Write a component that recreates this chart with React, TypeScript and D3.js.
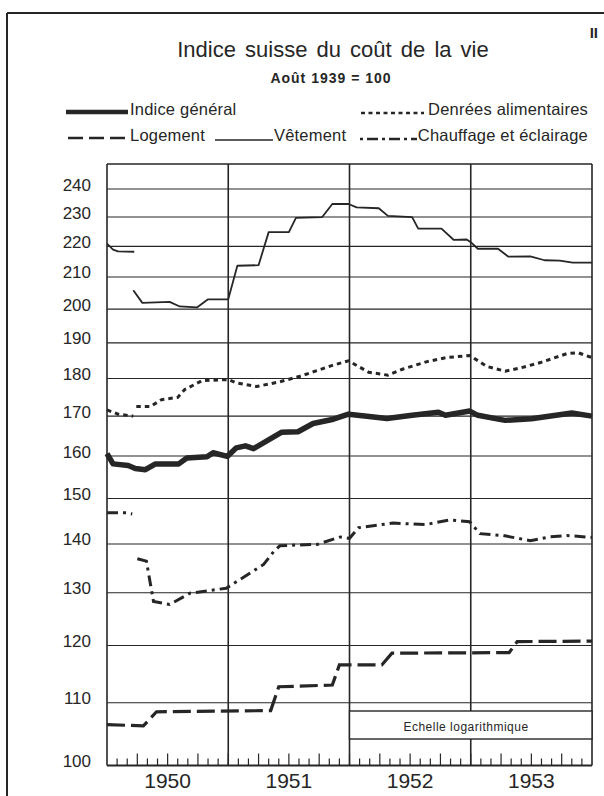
import React from "react";
import * as d3 from "d3";

const W = 604;
const H = 796;

const years = ["1950", "1951", "1952", "1953"];
const yLabels = [100, 110, 120, 130, 140, 150, 160, 170, 180, 190, 200, 210, 220, 230, 240];
const gridValues = [110, 120, 130, 140, 150, 160, 170, 180, 190, 200, 210, 220, 230, 240];

// [months since Jan 1950, index]; null = gap in the line
const indiceGeneral = [
  [0, 160.6], [0.6, 158.1], [2.1, 157.7], [2.8, 157.0], [3.8, 156.7], [4.8, 158.1],
  [7.1, 158.1], [7.9, 159.5], [9.9, 159.8], [10.5, 160.8], [11.9, 159.9], [12.8, 162.0],
  [13.7, 162.5], [14.5, 161.8], [17.3, 165.9], [18.9, 166.0], [20.4, 168.1], [22.4, 169.2],
  [23.9, 170.5], [25.5, 170.0], [27.7, 169.4], [30.2, 170.2], [32.8, 171.0], [33.5, 170.2],
  [35.9, 171.3], [36.7, 170.2], [39.4, 168.9], [42.0, 169.3], [46.0, 170.8], [48, 170.0],
];

const denrees = [
  [0, 171.6], [1.1, 170.5], [2.6, 170.0], null,
  [2.9, 172.5], [4.3, 172.5], [5.4, 174.3], [7.0, 174.9], [7.7, 177.0], [9.4, 179.4],
  [12.0, 179.7], [12.8, 178.8], [14.8, 177.8], [17.1, 179.1], [19.1, 180.6], [22.4, 183.7],
  [23.9, 184.9], [25.9, 181.7], [27.8, 180.9], [29.3, 182.6], [31.6, 184.6], [33.6, 185.8],
  [35.9, 186.4], [37.6, 183.3], [39.4, 182.0], [40.9, 182.9], [42.9, 184.4], [45.5, 186.9],
  [46.6, 187.2], [48, 185.8],
];

const logement = [
  [0, 106.4], [3.6, 106.2], [4.9, 108.5], [16.2, 108.7], [17.0, 112.7], [22.3, 113.0],
  [23.0, 116.5], [27.2, 116.5], [28.2, 118.6], [39.8, 118.7], [40.6, 120.7], [48, 120.8],
];

const vetement = [
  [0, 220.9], [0.6, 218.9], [1.1, 218.3], [2.7, 218.2], null,
  [2.6, 205.8], [3.5, 201.9], [6.2, 202.2], [7.2, 200.8], [8.9, 200.5], [10.0, 203.0],
  [12.0, 203.0], [12.9, 213.6], [15.0, 213.8], [16.0, 224.8], [18.0, 224.8], [18.7, 229.7],
  [21.3, 230.0], [22.3, 234.6], [23.9, 234.6], [24.7, 233.4], [26.9, 233.1], [27.8, 230.4],
  [30.2, 230.0], [30.8, 226.0], [33.1, 226.0], [34.3, 222.2], [35.6, 222.3], [36.0, 221.4],
  [36.7, 219.2], [38.7, 219.2], [39.7, 216.6], [41.9, 216.7], [43.3, 215.4], [44.8, 215.3],
  [46.1, 214.6], [48, 214.6],
];

const chauffage = [
  [0, 146.8], [1.9, 146.8], [2.5, 146.5], null,
  [3.0, 136.9], [3.9, 136.4], [4.6, 128.3], [6.2, 127.7], [8.2, 129.9], [11.8, 130.9],
  [15.5, 135.7], [16.5, 138.4], [17.1, 139.6], [19.1, 139.8], [20.8, 139.9], [23.1, 141.5],
  [24.0, 141.2], [24.9, 143.5], [28.3, 144.5], [31.6, 144.2], [33.9, 145.2], [35.9, 144.8],
  [36.9, 142.2], [39.2, 141.8], [41.9, 140.7], [43.8, 141.5], [45.5, 141.8], [48, 141.4],
];

const ink = "#262626";
const font = "'Liberation Sans', Arial, sans-serif";

const App = () => {
  const x = d3.scaleLinear().domain([0, 48]).range([107, 592]);
  const y = d3.scaleLog().domain([100, 249.3]).range([765.5, 164]);

  const line = d3
    .line<any>()
    .defined((d) => d != null)
    .x((d) => x(d[0]))
    .y((d) => y(d[1]));

  const months = d3.range(1, 48);

  return (
    <svg width={W} height={H} style={{ position: "absolute", left: 0, top: 0, background: "#fff" }} fontFamily={font}>
      <rect width={W} height={H} fill="#fff" />
      {/* page border */}
      <line x1={7} x2={W} y1={13} y2={13} stroke={ink} strokeWidth={2} />
      <line x1={7} x2={7} y1={13} y2={H} stroke={ink} strokeWidth={2} />
      <text x={598} y={38} textAnchor="end" fontSize={15} fontWeight="bold" fill={ink}>II</text>

      {/* titles */}
      <text x={333} y={57} textAnchor="middle" fontSize={22} wordSpacing={3} fill={ink}>
        Indice suisse du coût de la vie
      </text>
      <text x={331} y={83} textAnchor="middle" fontSize={14} fontWeight="bold" letterSpacing={1} fill={ink}>
        Août 1939 = 100
      </text>

      {/* legend */}
      <g fontSize={16.5} fill={ink} letterSpacing={0.2}>
        <line x1={66} x2={128} y1={112} y2={112} stroke={ink} strokeWidth={4.5} />
        <text x={130} y={115}>Indice général</text>
        <line x1={361} x2={424} y1={113} y2={113} stroke={ink} strokeWidth={2.5} strokeDasharray="4 3.5" />
        <text x={588} y={115} textAnchor="end">Denrées alimentaires</text>
        <line x1={68} x2={128} y1={138} y2={138} stroke={ink} strokeWidth={2.5} strokeDasharray="15 6" />
        <text x={130} y={141}>Logement</text>
        <line x1={215} x2={273} y1={140} y2={140} stroke={ink} strokeWidth={1.5} />
        <text x={274} y={141}>Vêtement</text>
        <line x1={360} x2={417} y1={139} y2={139} stroke={ink} strokeWidth={2.5} strokeDasharray="3 4 11 4" />
        <text x={588} y={141} textAnchor="end">Chauffage et éclairage</text>
      </g>

      {/* grid */}
      {gridValues.map((v) => (
        <line key={v} x1={x(0)} x2={x(48)} y1={y(v)} y2={y(v)} stroke={ink} strokeWidth={1.1} />
      ))}
      {[0, 12, 24, 36, 48].map((m) => (
        <line key={m} x1={x(m)} x2={x(m)} y1={y(249.3)} y2={y(100)} stroke={ink} strokeWidth={1.6} />
      ))}
      <line x1={x(0)} x2={x(48)} y1={y(249.3)} y2={y(249.3)} stroke={ink} strokeWidth={1.4} />
      <line x1={x(0)} x2={x(48)} y1={y(100)} y2={y(100)} stroke={ink} strokeWidth={2} />

      {/* month ticks */}
      {months.map((m) => (
        <line
          key={m}
          x1={x(m)}
          x2={x(m)}
          y1={y(100)}
          y2={y(100) - (m % 3 === 0 ? 12 : 7)}
          stroke={ink}
          strokeWidth={1.2}
        />
      ))}

      {/* y labels */}
      {yLabels.map((v) => (
        <text key={v} x={91} y={y(v) + 1.5} textAnchor="end" fontSize={17} fill={ink}>
          {v}
        </text>
      ))}
      {years.map((yr, i) => (
        <text key={yr} x={x(i * 12 + 6)} y={788} textAnchor="middle" fontSize={21} fill={ink}>
          {yr}
        </text>
      ))}

      {/* series */}
      <path d={line(logement as any) || ""} fill="none" stroke={ink} strokeWidth={3.2} strokeDasharray="18 6" />
      <path d={line(chauffage as any) || ""} fill="none" stroke={ink} strokeWidth={3} strokeDasharray="11 5 3 5" />
      <path d={line(vetement as any) || ""} fill="none" stroke={ink} strokeWidth={1.8} strokeLinejoin="round" />
      <path d={line(denrees as any) || ""} fill="none" stroke={ink} strokeWidth={3} strokeDasharray="4.5 4" />
      <path d={line(indiceGeneral as any) || ""} fill="none" stroke={ink} strokeWidth={5.5} strokeLinejoin="round" />

      {/* scale note */}
      <rect x={x(24)} y={711} width={x(48) - x(24)} height={28} fill="#fff" stroke={ink} strokeWidth={1.4} />
      <text x={466} y={731} textAnchor="middle" fontSize={12} letterSpacing={0.5} fill={ink}>
        Echelle logarithmique
      </text>
    </svg>
  );
};

export default App;
